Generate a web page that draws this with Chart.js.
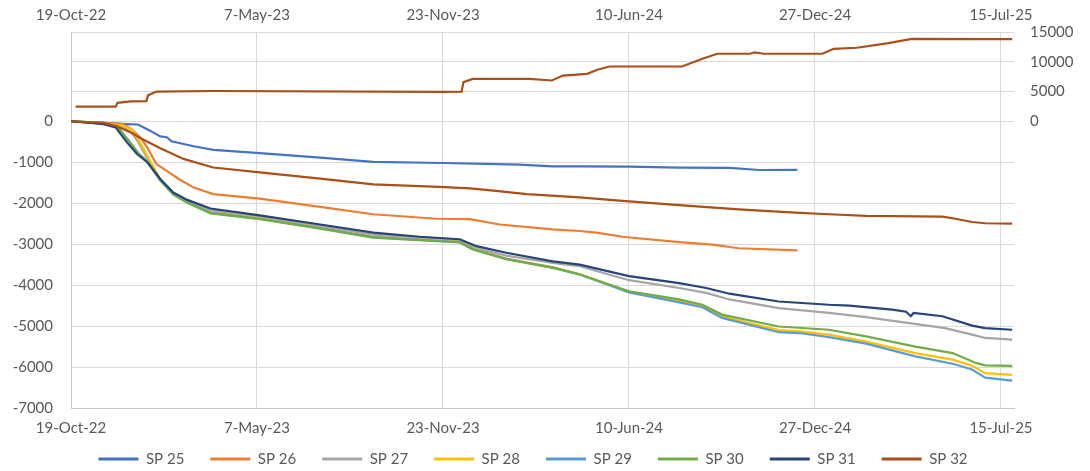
<!DOCTYPE html>
<html>
<head>
<meta charset="utf-8">
<script src="https://cdn.jsdelivr.net/npm/chart.js@4"></script>
<style>
  html, body { margin: 0; padding: 0; background: #ffffff; }
  #wrap { width: 1090px; height: 471px; }
</style>
</head>
<body>
<div id="wrap"><canvas id="chart-main" width="1090" height="471"></canvas></div>
<script>
// days counted from 19-Oct-22
var seriesNames = ['SP 25', 'SP 26', 'SP 27', 'SP 28', 'SP 29', 'SP 30', 'SP 31', 'SP 32'];
var seriesColors = ['#4472C4', '#ED7D31', '#A5A5A5', '#FFC000', '#5B9BD5', '#70AD47', '#264478', '#A94F17'];

var sp25Days = [0, 35, 60, 72, 85, 96, 103, 108, 132, 153, 203, 268, 325, 400, 482, 518, 547, 600, 654, 708, 740, 781];
var sp25Vals = [0, -40, -70, -80, -230, -370, -390, -490, -610, -700, -780, -890, -990, -1020, -1060, -1100, -1100, -1110, -1130, -1140, -1190, -1185];

var sp26Days = [0, 35, 56, 65, 76, 83, 92, 103, 116, 132, 153, 203, 268, 325, 393, 429, 461, 518, 547, 565, 593, 654, 690, 718, 781];
var sp26Vals = [0, -40, -70, -190, -430, -680, -1050, -1210, -1410, -1620, -1780, -1890, -2090, -2270, -2380, -2390, -2520, -2640, -2680, -2720, -2820, -2950, -3010, -3100, -3150];

var sp27Days = [0, 35, 55, 65, 72, 82, 96, 110, 125, 150, 203, 268, 325, 418, 434, 468, 518, 547, 600, 654, 683, 708, 761, 815, 855, 940, 969, 983, 1012];
var sp27Vals = [0, -50, -110, -280, -500, -900, -1420, -1760, -1950, -2170, -2340, -2560, -2770, -2910, -3090, -3280, -3460, -3540, -3880, -4070, -4190, -4350, -4560, -4680, -4780, -5050, -5210, -5290, -5330];

var sp28Days = [0, 35, 55, 65, 71, 82, 96, 110, 125, 150, 203, 268, 325, 418, 432, 468, 518, 547, 600, 654, 679, 700, 761, 783, 815, 855, 908, 948, 969, 983, 1012];
var sp28Vals = [0, -50, -100, -200, -390, -840, -1420, -1770, -1970, -2220, -2370, -2600, -2820, -2940, -3110, -3350, -3560, -3730, -4160, -4390, -4510, -4770, -5100, -5130, -5210, -5380, -5660, -5820, -5970, -6150, -6190];

var sp29Days = [0, 35, 50, 62, 72, 83, 96, 110, 125, 150, 203, 268, 325, 418, 432, 468, 518, 547, 600, 654, 679, 700, 761, 783, 815, 855, 908, 948, 969, 983, 1012];
var sp29Vals = [0, -60, -140, -470, -770, -1000, -1440, -1780, -1980, -2230, -2380, -2610, -2830, -2950, -3120, -3360, -3570, -3740, -4180, -4420, -4540, -4800, -5150, -5170, -5270, -5430, -5740, -5920, -6060, -6260, -6330];

var sp30Days = [0, 35, 50, 62, 72, 83, 96, 110, 125, 150, 203, 268, 325, 418, 432, 468, 518, 547, 600, 654, 679, 700, 761, 815, 855, 908, 948, 973, 983, 1012];
var sp30Vals = [0, -60, -140, -480, -780, -1010, -1450, -1790, -1990, -2250, -2390, -2620, -2840, -2960, -3130, -3370, -3580, -3740, -4150, -4350, -4480, -4720, -5010, -5090, -5250, -5500, -5660, -5900, -5960, -5970];

var sp31Days = [0, 35, 48, 60, 71, 82, 96, 110, 125, 150, 203, 268, 325, 375, 418, 436, 468, 518, 547, 600, 654, 683, 708, 761, 815, 837, 883, 898, 903, 906, 937, 969, 983, 1012];
var sp31Vals = [0, -70, -150, -510, -800, -1000, -1410, -1740, -1920, -2130, -2300, -2520, -2720, -2820, -2880, -3050, -3210, -3420, -3500, -3780, -3950, -4070, -4210, -4400, -4480, -4500, -4600, -4650, -4760, -4680, -4760, -4990, -5050, -5090];

var sp32Days = [0, 35, 49, 64, 76, 96, 121, 153, 203, 268, 325, 396, 429, 457, 490, 547, 593, 654, 718, 779, 815, 855, 937, 951, 969, 983, 1012];
var sp32Vals = [0, -40, -120, -270, -430, -660, -920, -1130, -1250, -1400, -1540, -1600, -1640, -1700, -1780, -1860, -1945, -2050, -2150, -2230, -2270, -2310, -2330, -2380, -2460, -2490, -2500];

// upper line on the right-hand axis
var upperDays = [5, 48, 50, 64, 81, 83, 92, 153, 400, 420, 422, 432, 493, 517, 529, 555, 566, 579, 657, 679, 695, 730, 735, 745, 808, 820, 845, 879, 904, 1012];
var upperVals = [2450, 2450, 3100, 3350, 3400, 4400, 5000, 5100, 4950, 5000, 6600, 7150, 7150, 6870, 7700, 8000, 8680, 9230, 9230, 10530, 11380, 11380, 11600, 11380, 11380, 12220, 12390, 13180, 13900, 13850];

var xTicks = [0, 200, 400, 600, 800, 1000];
var leftTicks = [-7000, -6000, -5000, -4000, -3000, -2000, -1000, 0];
var rightTicks = [0, 5000, 10000, 15000];

var monthNames = ['Jan', 'Feb', 'Mar', 'Apr', 'May', 'Jun', 'Jul', 'Aug', 'Sep', 'Oct', 'Nov', 'Dec'];
var startDate = Date.UTC(2022, 9, 19);

function dayLabel(value) {
    var d = new Date(startDate + value * 86400000);
    return d.getUTCDate() + '-' + monthNames[d.getUTCMonth()] + '-' + String(d.getUTCFullYear()).slice(2);
}

function plainNumber(value) {
    return String(value);
}

function toPoints(days, vals) {
    var pts = [];
    for (var i = 0; i < days.length; i++) {
        pts.push({ x: days[i], y: vals[i] });
    }
    return pts;
}

function setTicks(list) {
    return function (axis) {
        axis.ticks = list.map(function (v) { return { value: v }; });
    };
}

var allDays = [sp25Days, sp26Days, sp27Days, sp28Days, sp29Days, sp30Days, sp31Days, sp32Days];
var allVals = [sp25Vals, sp26Vals, sp27Vals, sp28Vals, sp29Vals, sp30Vals, sp31Vals, sp32Vals];

var datasets = [];
seriesNames.forEach(function (name, i) {
    datasets.push({
        label: name,
        data: toPoints(allDays[i], allVals[i]),
        borderColor: seriesColors[i],
        backgroundColor: seriesColors[i],
        borderWidth: 2.2,
        pointRadius: 0,
        tension: 0,
        yAxisID: 'y',
        order: 20 - i
    });
});
datasets.push({
    label: '',
    data: toPoints(upperDays, upperVals),
    borderColor: seriesColors[7],
    backgroundColor: seriesColors[7],
    borderWidth: 2.2,
    pointRadius: 0,
    tension: 0,
    yAxisID: 'y2',
    order: 1
});

var textColor = '#595959';
var gridColor = '#D9D9D9';
var tickFont = { family: 'Lato', size: 15 };

// legend: wide gaps between items, but it should not take much room from the plot
var legendPlacePlugin = {
    id: 'legendPlace',
    afterInit: function (chart) {
        var legend = chart.legend;
        var fit = legend.fit;
        legend.fit = function () {
            fit.call(this);
            this.height = 23;
        };
    },
    afterLayout: function (chart) {
        var legend = chart.legend;
        legend.top = 425.5;
        legend.bottom = 471;
        legend.left = 0;
        legend.right = 1066;
    }
};

var options = {
    responsive: false,
    animation: false,
    layout: { padding: 0 },
    scales: {
        x: {
            type: 'linear',
            position: 'bottom',
            min: 0,
            max: 1014,
            afterBuildTicks: setTicks(xTicks),
            afterFit: function (scale) { scale.height = 40; },
            grid: { color: gridColor, drawTicks: false },
            border: { color: '#C8C8C8' },
            ticks: {
                color: textColor, font: tickFont, padding: 11, maxRotation: 0,
                callback: function (value) { return dayLabel(value); }
            }
        },
        x2: {
            type: 'linear',
            position: 'top',
            min: 0,
            max: 1014,
            afterBuildTicks: setTicks(xTicks),
            afterFit: function (scale) { scale.height = 32.3; },
            grid: { display: false, drawTicks: false },
            border: { display: false },
            ticks: {
                color: textColor, font: tickFont, padding: 8, maxRotation: 0,
                callback: function (value) { return dayLabel(value); }
            }
        },
        y: {
            position: 'left',
            min: -7000,
            max: 2171,
            afterBuildTicks: setTicks(leftTicks),
            afterFit: function (scale) { scale.width = 71; },
            grid: { color: gridColor, drawTicks: false },
            border: { color: '#C8C8C8' },
            ticks: { color: textColor, font: tickFont, padding: 18, callback: plainNumber }
        },
        y2: {
            position: 'right',
            min: -48370,
            max: 15000,
            afterBuildTicks: setTicks(rightTicks),
            afterFit: function (scale) { scale.width = 76; },
            grid: { color: gridColor, drawTicks: false },
            border: { display: false },
            ticks: { color: textColor, font: tickFont, padding: 16, callback: plainNumber }
        }
    },
    plugins: {
        legend: {
            position: 'bottom',
            labels: {
                color: textColor,
                font: tickFont,
                boxWidth: 40,
                boxHeight: 3,
                padding: 26,
                generateLabels: function (chart) {
                    var items = Chart.defaults.plugins.legend.labels.generateLabels(chart);
                    items = items.filter(function (it) { return it.text !== ''; });
                    items.sort(function (a, b) { return a.datasetIndex - b.datasetIndex; });
                    items.forEach(function (it) { it.lineWidth = 0; });
                    return items;
                }
            }
        },
        tooltip: { enabled: false }
    }
};

var ctx = document.getElementById('chart-main').getContext('2d');
var chart = new Chart(ctx, {
    type: 'line',
    data: { datasets: datasets },
    options: options,
    plugins: [legendPlacePlugin]
});
</script>
</body>
</html>
